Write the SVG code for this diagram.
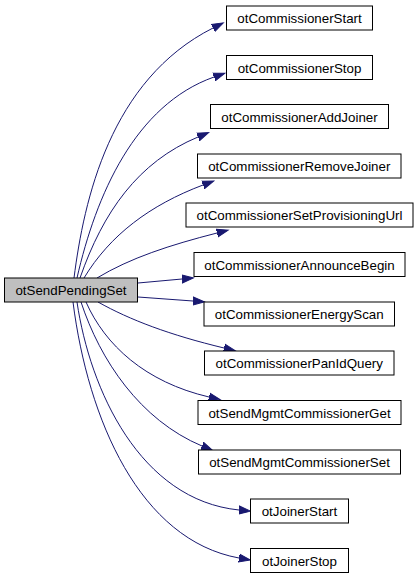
<svg xmlns="http://www.w3.org/2000/svg" width="419" height="579" viewBox="0 0 419 579">
<style>
.n rect{fill:#ffffff;stroke:#000000;stroke-width:1}
.m rect{fill:#bfbfbf;stroke:#000000;stroke-width:1}
text{font-family:"Liberation Sans",Arial,sans-serif;font-size:13.33px;text-anchor:middle;fill:#000000}
.e path{fill:none;stroke:#191970;stroke-width:1;marker-end:url(#ah)}
</style>
<defs>
<marker id="ah" markerUnits="userSpaceOnUse" markerWidth="13" markerHeight="10" viewBox="0 -5 13 10" refX="0" refY="0" orient="auto">
<path d="M0,-4 L11.5,0 L0,4 Z" fill="#191970" stroke="#191970" stroke-width="1"/>
</marker>
</defs>
<g id="edges" class="e">
<path d="M74,278 C84,200 110,80 213,28"/>
<path d="M77,278 C96,195 135,105 214,77"/>
<path d="M80,278 C103,212 138,162 198,137"/>
<path d="M84,278 C110,235 150,205 203,185"/>
<path d="M97,278 C130,258 170,245 217,233"/>
<path d="M138,283 L182,279"/>
<path d="M138,297 L193,301"/>
<path d="M98,302 C130,320 170,335 224,348"/>
<path d="M86,302 C105,345 145,382 209,397"/>
<path d="M81,302 C100,360 140,420 202,446"/>
<path d="M77,302 C90,390 140,500 239,510"/>
<path d="M73,302 C88,420 140,540 239,558"/>
</g>
<g id="otSendPendingSet" class="m"><rect x="4.5" y="278" width="133" height="24"/><text x="71" y="295">otSendPendingSet</text></g>
<g id="otCommissionerStart" class="n"><rect x="226.5" y="6" width="146" height="24"/><text x="299.5" y="23">otCommissionerStart</text></g>
<g id="otCommissionerStop" class="n"><rect x="226.5" y="55.5" width="146" height="24"/><text x="299.5" y="72.5">otCommissionerStop</text></g>
<g id="otCommissionerAddJoiner" class="n"><rect x="210.5" y="104.5" width="178" height="24"/><text x="299.5" y="121.5">otCommissionerAddJoiner</text></g>
<g id="otCommissionerRemoveJoiner" class="n"><rect x="197.5" y="154" width="203.5" height="24"/><text x="299.25" y="171">otCommissionerRemoveJoiner</text></g>
<g id="otCommissionerSetProvisioningUrl" class="n"><rect x="186" y="203" width="227" height="24"/><text x="299.5" y="220">otCommissionerSetProvisioningUrl</text></g>
<g id="otCommissionerAnnounceBegin" class="n"><rect x="194" y="252.5" width="211" height="24"/><text x="299.5" y="269.5">otCommissionerAnnounceBegin</text></g>
<g id="otCommissionerEnergyScan" class="n"><rect x="204" y="302" width="190.5" height="24"/><text x="299.25" y="319">otCommissionerEnergyScan</text></g>
<g id="otCommissionerPanIdQuery" class="n"><rect x="204.5" y="351" width="189.5" height="24"/><text x="299.25" y="368">otCommissionerPanIdQuery</text></g>
<g id="otSendMgmtCommissionerGet" class="n"><rect x="198" y="400.5" width="203" height="24"/><text x="299.5" y="417.5">otSendMgmtCommissionerGet</text></g>
<g id="otSendMgmtCommissionerSet" class="n"><rect x="198.5" y="450" width="202" height="24"/><text x="299.5" y="467">otSendMgmtCommissionerSet</text></g>
<g id="otJoinerStart" class="n"><rect x="250.5" y="499" width="98" height="24"/><text x="299.5" y="516">otJoinerStart</text></g>
<g id="otJoinerStop" class="n"><rect x="250.5" y="548.5" width="98" height="24"/><text x="299.5" y="565.5">otJoinerStop</text></g>
</svg>
